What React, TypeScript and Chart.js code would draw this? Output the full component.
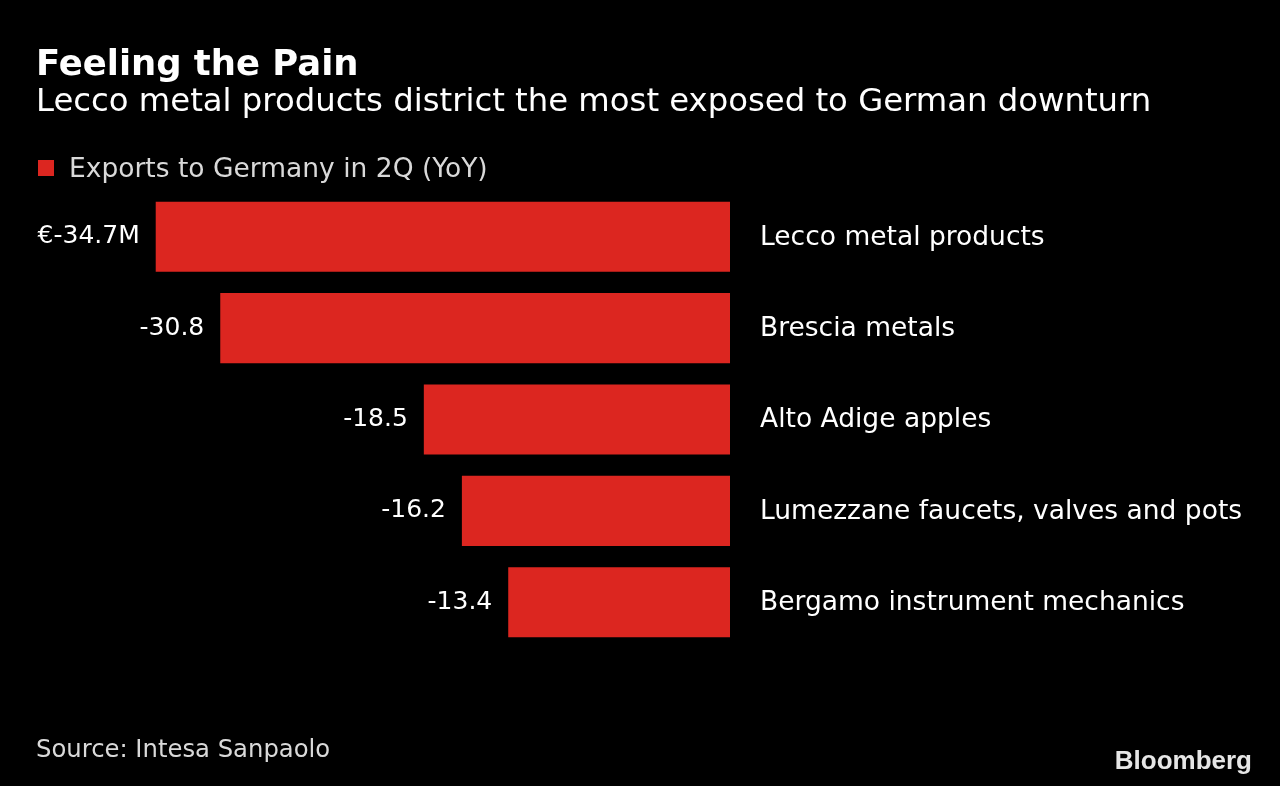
import React, { useEffect, useRef } from "react";
import { Chart, registerables } from "chart.js";

Chart.register(...registerables);

const categories = [
  "Lecco metal products",
  "Brescia metals",
  "Alto Adige apples",
  "Lumezzane faucets, valves and pots",
  "Bergamo instrument mechanics",
];
const values = [-34.7, -30.8, -18.5, -16.2, -13.4];
const valueLabels = ["€-34.7M", "-30.8", "-18.5", "-16.2", "-13.4"];
const seriesName = "Exports to Germany in 2Q (YoY)";
const titleText = "Feeling the Pain";
const subtitleText = "Lecco metal products district the most exposed to German downturn";
const sourceText = "Source: Intesa Sanpaolo";
const brandText = "Bloomberg";

const RED = "#dc2620";
const FONT = "'DejaVu Sans', sans-serif";

const textPlugin = {
  id: "textPlugin",
  beforeDraw(chart: any) {
    const ctx = chart.ctx;
    ctx.save();
    ctx.fillStyle = "#000";
    ctx.fillRect(0, 0, chart.width, chart.height);
    ctx.restore();
  },
  afterDraw(chart: any) {
    const ctx = chart.ctx;
    ctx.save();
    ctx.textBaseline = "alphabetic";
    // title
    ctx.fillStyle = "#ffffff";
    ctx.textAlign = "left";
    ctx.font = `bold 35.4px ${FONT}`;
    ctx.fillText(titleText, 36, 75);
    ctx.font = `32.3px ${FONT}`;
    ctx.fillText(subtitleText, 36, 111);
    // legend
    ctx.fillStyle = RED;
    ctx.fillRect(38, 160, 16, 16);
    ctx.fillStyle = "#d9d9d9";
    ctx.font = `26.5px ${FONT}`;
    ctx.fillText(seriesName, 69, 177);
    // bars labels
    const meta = chart.getDatasetMeta(0);
    ctx.textBaseline = "middle";
    meta.data.forEach((el: any, i: number) => {
      ctx.fillStyle = "#ffffff";
      ctx.font = `25px ${FONT}`;
      ctx.textAlign = "right";
      ctx.fillText(valueLabels[i], el.x - 16, el.y);
      ctx.textAlign = "left";
      ctx.font = `26.5px ${FONT}`;
      ctx.fillText(categories[i], el.base + 30, el.y + 1);
    });
    // source
    ctx.textBaseline = "alphabetic";
    ctx.textAlign = "left";
    ctx.fillStyle = "#d9d9d9";
    ctx.font = `24.3px ${FONT}`;
    ctx.fillText(sourceText, 36, 757);
    // brand
    ctx.textAlign = "right";
    ctx.fillStyle = "#e6e6e6";
    ctx.font = `bold 26px 'Liberation Sans', Arial, sans-serif`;
    ctx.fillText(brandText, 1252, 769);
    ctx.restore();
  },
};

export default function App() {
  const ref = useRef<HTMLCanvasElement | null>(null);
  useEffect(() => {
    document.body.style.margin = "0";
    document.body.style.background = "#000";
    const canvas = ref.current!;
    const chart = new Chart(canvas, {
      type: "bar",
      data: {
        labels: categories,
        datasets: [
          {
            label: seriesName,
            data: values,
            backgroundColor: RED,
            borderWidth: 0,
            barPercentage: 0.767,
            categoryPercentage: 1,
          },
        ],
      },
      options: {
        indexAxis: "y",
        responsive: false,
        animation: false,
        layout: { padding: { top: 191, bottom: 138, left: 68, right: 550 } },
        plugins: {
          legend: { display: false },
          title: { display: false },
          tooltip: { enabled: false },
        },
        scales: {
          x: { display: false, min: -40, max: 0 },
          y: { display: false },
        },
      },
      plugins: [textPlugin],
    });
    return () => chart.destroy();
  }, []);
  return (
    <div style={{ width: 1280, height: 786, background: "#000" }}>
      <canvas ref={ref} width={1280} height={786} style={{ width: 1280, height: 786, display: "block" }} />
    </div>
  );
}
